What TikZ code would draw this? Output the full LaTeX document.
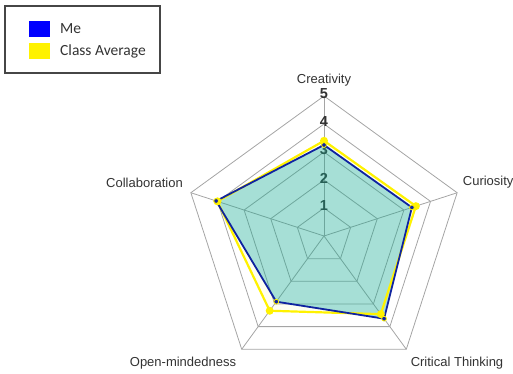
\documentclass[tikz,border=0pt]{standalone}
\usepackage{fontspec}
\setmainfont{Liberation Sans}
\newfontfamily\legendfont{Carlito}
\usepackage{xcolor}
\usepackage{tikz}
\definecolor{webgray}{RGB}{165,165,165}
\definecolor{meblue}{RGB}{15,35,160}
\definecolor{avgyellow}{RGB}{255,242,0}
\definecolor{meteal}{RGB}{0,164,160}
\definecolor{labelgray}{RGB}{50,50,50}
\definecolor{keyframe}{RGB}{70,70,70}

\begin{document}
\begin{tikzpicture}[x=1pt,y=1pt]
\tikzstyle{every node}=[font=\fontsize{13}{15}\selectfont, text=labelgray, inner sep=0pt]
\tikzstyle{webline}=[draw=webgray, line width=0.8pt]
\tikzstyle{scalenum}=[font=\fontsize{14.5}{16}\selectfont\bfseries]
\tikzstyle{keytext}=[anchor=west, font=\legendfont\fontsize{15.5}{18}\selectfont, text=black!80]
\tikzstyle{avgdot}=[fill=avgyellow]
\tikzstyle{medot}=[fill=meblue, draw=avgyellow, line width=0.8pt]
\useasboundingbox (0,0) rectangle (513,374);
% legend
\draw [line width=1.4pt, draw=keyframe] (5,301) rectangle (160,368);
\fill [blue] (29,337) rectangle (50,353);
\fill [yellow] (29,315) rectangle (50,331);
\node [keytext] (keyme) at (60,345) {Me};
\node [keytext] (keyavg) at (60,323) {Class Average};
\begin{scope}[shift={(324,138)}]
% web
\draw [webline] (90:140) -- (18:140) -- (-54:140) -- (-126:140) -- (162:140) -- cycle;
\draw [webline] (90:112) -- (18:112) -- (-54:112) -- (-126:112) -- (162:112) -- cycle;
\draw [webline] (90:84) -- (18:84) -- (-54:84) -- (-126:84) -- (162:84) -- cycle;
\draw [webline] (90:56) -- (18:56) -- (-54:56) -- (-126:56) -- (162:56) -- cycle;
\draw [webline] (90:28) -- (18:28) -- (-54:28) -- (-126:28) -- (162:28) -- cycle;
\draw [webline] (0,0) -- (90:140);
\draw [webline] (0,0) -- (18:140);
\draw [webline] (0,0) -- (-54:140);
\draw [webline] (0,0) -- (-126:140);
\draw [webline] (0,0) -- (162:140);
% scale
\node [scalenum] (num1) at (90:30) {1};
\node [scalenum] (num2) at (90:58) {2};
\node [scalenum] (num3) at (90:86) {3};
\node [scalenum] (num4) at (90:114) {4};
\node [scalenum] (num5) at (90:142) {5};
% axis labels
\node (creativity) at (0,156) {Creativity};
\node [anchor=west] (curiosity) at (138.7,54) {Curiosity};
\node (critical) at (133,-127) {Critical Thinking};
\node (openmind) at (-141,-127) {Open-mindedness};
\node (collab) at (-179.5,53) {Collaboration};
% class average
\fill [avgyellow, opacity=0.05] (90:95.2) -- (18:96.6) -- (-54:96.6) -- (-126:92.4) -- (162:112) -- cycle;
% me
\fill [meteal, opacity=0.35] (90:91) -- (18:92.4) -- (-54:102.2) -- (-126:81.2) -- (162:113.4) -- cycle;
\draw [avgyellow, line width=2.2pt, line join=round] (90:95.2) -- (18:96.6) -- (-54:96.6) -- (-126:92.4) -- (162:112) -- cycle;
\draw [meblue, line width=1.8pt, line join=round] (90:91) -- (18:92.4) -- (-54:102.2) -- (-126:81.2) -- (162:113.4) -- cycle;
\fill [avgdot] (90:95.2) circle (4);
\fill [avgdot] (18:96.6) circle (4);
\fill [avgdot] (-54:96.6) circle (4);
\fill [avgdot] (-126:92.4) circle (4);
\fill [avgdot] (162:112) circle (4);
\filldraw [medot] (90:91) circle (2.4);
\filldraw [medot] (18:92.4) circle (2.4);
\filldraw [medot] (-54:102.2) circle (2.4);
\filldraw [medot] (-126:81.2) circle (2.4);
\filldraw [medot] (162:113.4) circle (2.4);
\end{scope}
\end{tikzpicture}
\end{document}
